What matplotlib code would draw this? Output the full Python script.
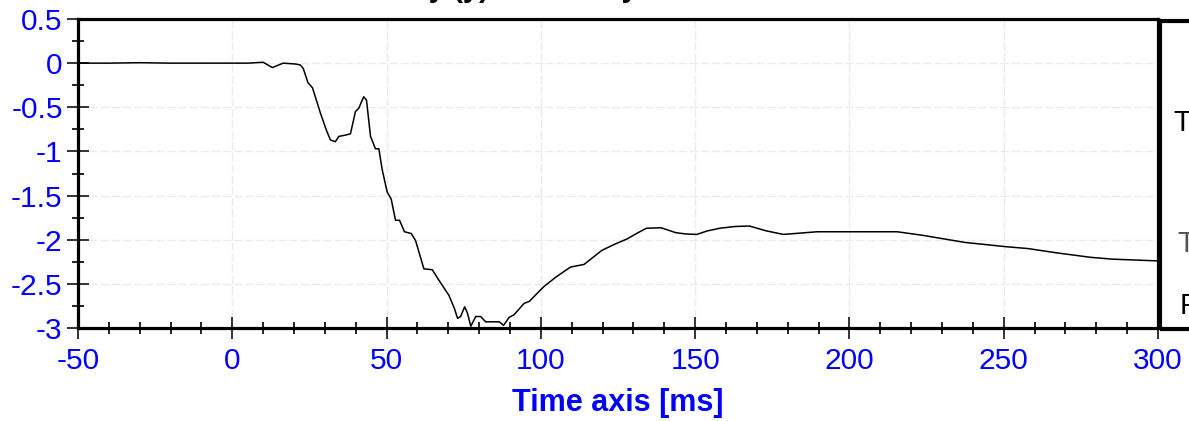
import matplotlib
matplotlib.use("Agg")
import matplotlib.pyplot as plt
from matplotlib.ticker import MultipleLocator
from matplotlib.patches import Rectangle

# time axis [ms] and velocity
time_ms = [-50, -40, -30, -20, -10, 0, 5, 10, 13, 16.5, 20.5, 22, 23, 24.5, 26,
           28.6, 30.5, 31.8, 33.4, 34.5, 36.7, 38.3, 39.9, 41, 42.6, 43.5, 44.8,
           46.4, 47.5, 48.6, 50.2, 51.5, 52.9, 54.2, 55.8, 58, 59.4, 61, 62.1,
           64.8, 67, 70.2, 72, 73, 74, 75.3, 76.2, 77.3, 78.9, 80.5, 82.1, 84.8,
           86.5, 87.9, 89.7, 91.3, 94.6, 96.2, 101, 105, 109.6, 114, 119.8, 124,
           128, 131, 134.2, 139, 143.7, 147, 150.5, 154, 158, 163, 167.6, 173.1,
           178.6, 189.5, 200.4, 215.5, 223.7, 237.3, 251, 257.8, 267.4, 278.3,
           285.2, 300]
velocity = [0, 0, 0.005, 0, 0, 0, 0, 0.01, -0.05, 0.0, -0.01, -0.02, -0.06,
            -0.22, -0.28, -0.57, -0.76, -0.87, -0.89, -0.83, -0.815, -0.80,
            -0.55, -0.51, -0.38, -0.42, -0.83, -0.97, -0.97, -1.21, -1.46,
            -1.54, -1.78, -1.78, -1.91, -1.93, -2.01, -2.20, -2.33, -2.34,
            -2.46, -2.63, -2.78, -2.89, -2.87, -2.76, -2.83, -2.98, -2.87,
            -2.87, -2.93, -2.93, -2.93, -2.97, -2.88, -2.85, -2.72, -2.70,
            -2.53, -2.42, -2.31, -2.28, -2.12, -2.05, -1.99, -1.93, -1.87,
            -1.865, -1.92, -1.935, -1.94, -1.90, -1.87, -1.85, -1.845, -1.90,
            -1.94, -1.91, -1.91, -1.91, -1.95, -2.03, -2.08, -2.10, -2.15,
            -2.20, -2.22, -2.24]

x_ticks = [-50, 0, 50, 100, 150, 200, 250, 300]
y_ticks = [0.5, 0, -0.5, -1, -1.5, -2, -2.5, -3]

plt.rcParams['font.family'] = ['Liberation Sans', 'DejaVu Sans']
plt.rcParams['axes.unicode_minus'] = False

W, H = 1189, 421
fig = plt.figure(figsize=(W / 100, H / 100), dpi=100)
ax = fig.add_axes([78 / W, 1 - 328 / H, (1158 - 78) / W, (328 - 19) / H])

ax.plot(time_ms, velocity, color='black', linewidth=1.1)

ax.set_xlim(-50, 300)
ax.set_ylim(-3, 0.5)
ax.set_xticks(x_ticks)
ax.set_xticklabels([f"{v:g}" for v in x_ticks])
ax.set_yticks(y_ticks)
ax.set_yticklabels([f"{v:g}" for v in y_ticks])
ax.xaxis.set_minor_locator(MultipleLocator(10))
ax.yaxis.set_minor_locator(MultipleLocator(0.25))

ax.grid(True, which='major', color='#ebebeb', linestyle=(0, (6, 2)), linewidth=1)

for side in ['left', 'bottom', 'top', 'right']:
    ax.spines[side].set_linewidth(2.3)

ax.tick_params(axis='both', which='major', direction='inout', length=16,
               width=1.4, color='#333333', labelcolor='#0000ff', labelsize=21.5)
ax.tick_params(axis='x', which='major', pad=6)
ax.tick_params(axis='y', which='major', pad=3)
ax.tick_params(axis='both', which='minor', direction='inout', length=9,
               width=1.2, color='black')

ax.set_xlabel("Time axis [ms]", color='#0000ff', fontsize=22, fontweight='bold',
              labelpad=9)

# title is mostly cut off at the top edge of the image
fig.text(335 / W, 1 + 3 / H, "Velocity (y) vs. Time y", fontsize=21,
         fontweight='bold', color='black', ha='left', va='baseline')

# legend panel on the right, clipped by the image border
fig.patches.append(Rectangle((1160 / W, 1 - 329 / H), 60 / W, (329 - 21) / H,
                             transform=fig.transFigure, fill=False,
                             edgecolor='black', linewidth=3))
fig.text(1173 / W, 1 - 131 / H, "T", fontsize=21, color='black', ha='left',
         va='baseline')
fig.text(1177 / W, 1 - 252 / H, "T", fontsize=21, color='#555555', ha='left',
         va='baseline')
fig.text(1180 / W, 1 - 314 / H, "F", fontsize=21, color='black', ha='left',
         va='baseline')

fig.savefig("out.png", dpi=100)
